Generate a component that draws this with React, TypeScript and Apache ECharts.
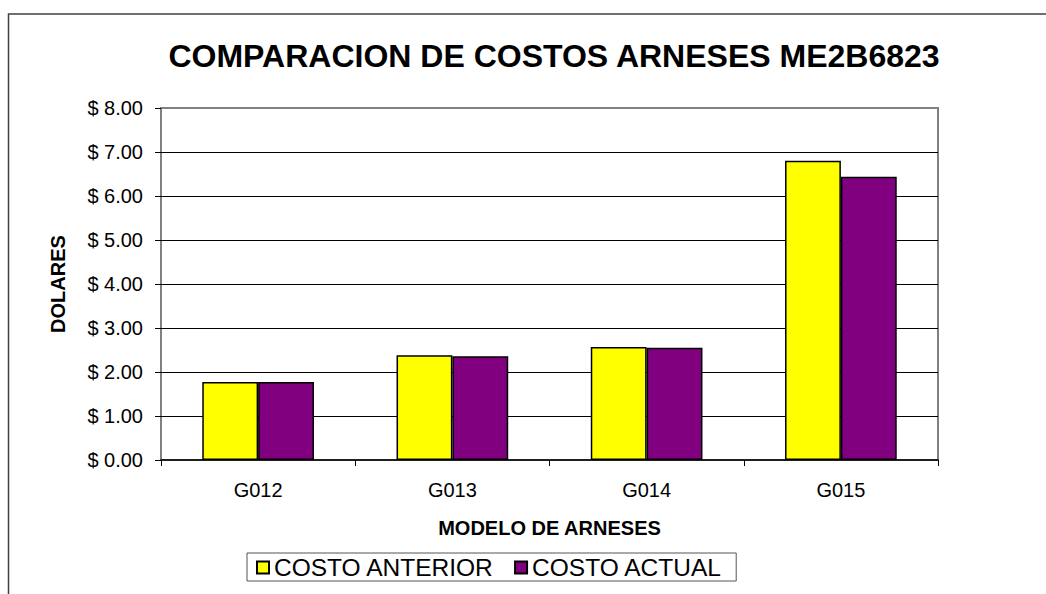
import React, { useEffect, useRef } from "react";
import * as echarts from "echarts";

const categories = ["G012", "G013", "G014", "G015"];
const costoAnterior = [1.77, 2.38, 2.57, 6.8];
const costoActual = [1.77, 2.36, 2.55, 6.44];
const seriesNames = ["COSTO ANTERIOR", "COSTO ACTUAL"];
const titleText = "COMPARACION DE COSTOS ARNESES ME2B6823";
const xName = "MODELO DE ARNESES";
const yName = "DOLARES";

const FONT = "'Liberation Sans', Arial, sans-serif";

export default function App() {
  const ref = useRef<HTMLDivElement>(null);
  useEffect(() => {
    if (!ref.current) return;
    const chart = echarts.init(ref.current, undefined, { renderer: "svg" });
    chart.setOption({
      animation: false,
      backgroundColor: "#ffffff",
      title: {
        text: titleText,
        left: 549,
        top: 35,
        textAlign: "center",
        textStyle: { fontFamily: FONT, fontSize: 32, fontWeight: "bold", color: "#000" },
      },
      graphic: [
        {
          type: "rect",
          shape: { x: 8.5, y: 14, width: 1200, height: 800 },
          style: { fill: "none", stroke: "#404040", lineWidth: 1.5 },
          silent: true,
        },
      ],
      legend: {
        data: seriesNames,
        left: 247,
        top: 553,
        padding: [2, 14, 1, 9],
        itemGap: 20,
        itemWidth: 12,
        itemHeight: 12,
        borderColor: "#555",
        borderWidth: 1,
        icon: "rect",
        textStyle: { fontFamily: FONT, fontSize: 24.5, color: "#000" },
      },
      grid: {
        left: 161,
        right: 108,
        top: 108,
        bottom: 134,
        show: true,
        borderColor: "#808080",
        borderWidth: 2,
      },
      xAxis: {
        type: "category",
        data: categories,
        name: xName,
        nameLocation: "middle",
        nameGap: 58,
        nameTextStyle: { fontFamily: FONT, fontSize: 20, fontWeight: "bold", color: "#000" },
        axisLine: { lineStyle: { color: "#000", width: 1.5 } },
        axisTick: { show: true, length: 6, lineStyle: { color: "#000", width: 1 } },
        axisLabel: { fontFamily: FONT, fontSize: 20, color: "#000", margin: 20 },
        splitLine: { show: false },
      },
      yAxis: {
        type: "value",
        min: 0,
        max: 8,
        interval: 1,
        name: yName,
        nameLocation: "middle",
        nameGap: 93,
        nameTextStyle: { fontFamily: FONT, fontSize: 20, fontWeight: "bold", color: "#000" },
        axisLine: { show: false },
        axisTick: { show: true, length: 6, lineStyle: { color: "#000", width: 1 } },
        axisLabel: {
          fontFamily: FONT,
          fontSize: 20,
          color: "#000",
          margin: 18,
          formatter: (v: number) => "$ " + v.toFixed(2),
        },
        splitLine: {
          show: true,
          showMinLine: false,
          showMaxLine: false,
          lineStyle: { color: "#000", width: 1 },
        },
      },
      series: [
        {
          name: seriesNames[0],
          type: "bar",
          data: costoAnterior,
          barGap: "0%",
          barCategoryGap: "42.5%",
          itemStyle: { color: "#FFFF00", borderColor: "#000", borderWidth: 1.5 },
        },
        {
          name: seriesNames[1],
          type: "bar",
          data: costoActual,
          barGap: "0%",
          barCategoryGap: "42.5%",
          itemStyle: { color: "#800080", borderColor: "#000", borderWidth: 1.5 },
        },
      ],
    });
    return () => chart.dispose();
  }, []);
  return (
    <div
      ref={ref}
      style={{ position: "absolute", left: 0, top: 0, width: 1046, height: 594, background: "#fff" }}
    />
  );
}
